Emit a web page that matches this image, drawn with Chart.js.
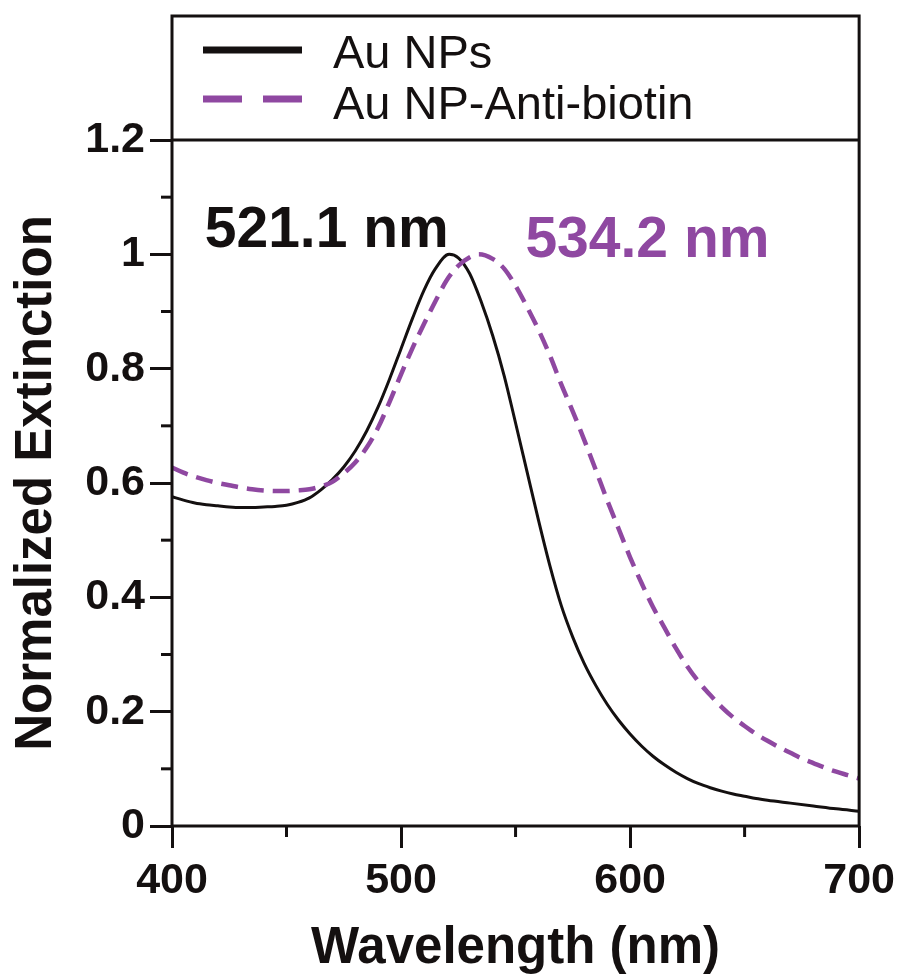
<!DOCTYPE html>
<html><head><meta charset="utf-8">
<script src="https://cdn.jsdelivr.net/npm/chart.js@4/dist/chart.umd.min.js"></script>
<style>html,body{margin:0;padding:0;background:#fff}canvas{display:block}</style>
</head><body>
<canvas id="c" width="907" height="976"></canvas>
<script>
// ---- data ----
const seriesLabels = ['Au NPs', 'Au NP-Anti-biotin'];
const peakLabels = ['521.1 nm', '534.2 nm'];
const xTickValues = [400, 500, 600, 700];
const yTickValues = [0, 0.2, 0.4, 0.6, 0.8, 1, 1.2];

const auNpWavelength = [400,405,410,415,420,425,430,435,440,445,450,455,460,465,470,475,480,485,490,495,500,505,510,515,521,525,530,535,540,545,550,555,560,565,570,575,580,585,590,595,600,605,610,615,620,625,630,635,640,645,650,655,660,670,680,690,700];
const auNpExtinction = [0.576,0.570,0.565,0.562,0.560,0.558,0.557,0.557,0.558,0.559,0.561,0.566,0.574,0.588,0.606,0.628,0.656,0.691,0.733,0.782,0.835,0.888,0.937,0.975,1.000,0.994,0.966,0.917,0.858,0.788,0.705,0.620,0.535,0.455,0.385,0.330,0.284,0.246,0.213,0.185,0.161,0.140,0.122,0.107,0.094,0.083,0.074,0.067,0.061,0.056,0.052,0.048,0.045,0.040,0.035,0.030,0.026];

const antiBiotinWavelength = [400,405,410,415,420,425,430,435,440,445,450,455,460,465,470,475,480,485,490,495,500,505,510,515,520,525,530,534,540,545,550,555,560,565,570,575,580,585,590,595,600,605,610,615,620,625,630,635,640,645,650,655,660,665,670,675,680,685,690,695,700];
const antiBiotinExtinction = [0.627,0.618,0.611,0.605,0.600,0.596,0.592,0.589,0.587,0.586,0.586,0.587,0.589,0.594,0.602,0.617,0.636,0.662,0.697,0.742,0.790,0.836,0.878,0.918,0.955,0.980,0.995,1.000,0.992,0.975,0.945,0.908,0.868,0.823,0.772,0.725,0.675,0.623,0.570,0.520,0.470,0.425,0.383,0.347,0.311,0.279,0.252,0.229,0.208,0.190,0.175,0.161,0.149,0.138,0.128,0.118,0.110,0.102,0.095,0.089,0.083];

// ---- styles ----
const FONT = "'Liberation Sans', Arial, Helvetica, sans-serif";
const INK = '#141010';
const PURPLE = '#8f48a1';

const toPoints = (xs, ys) => xs.map((x, i) => ({x, y: ys[i]}));

const framePlugin = {
  id: 'frame',
  afterDraw(chart) {
    const {ctx, chartArea: a, scales} = chart;
    ctx.save();
    ctx.strokeStyle = INK;
    ctx.lineWidth = 3;
    ctx.strokeRect(a.left, 16, a.right - a.left, a.bottom - 16);
    ctx.beginPath();
    ctx.moveTo(a.left, a.top); ctx.lineTo(a.right, a.top); ctx.stroke();

    // minor ticks at midpoints of major ticks
    const minorLen = 11;
    const xs = scales.x, ys = scales.y;
    for (let i = 0; i < xs.ticks.length - 1; i++) {
      const px = xs.getPixelForValue((xs.ticks[i].value + xs.ticks[i + 1].value) / 2);
      ctx.beginPath(); ctx.moveTo(px, a.bottom); ctx.lineTo(px, a.bottom + minorLen); ctx.stroke();
    }
    for (let i = 0; i < ys.ticks.length - 1; i++) {
      const py = ys.getPixelForValue((ys.ticks[i].value + ys.ticks[i + 1].value) / 2);
      ctx.beginPath(); ctx.moveTo(a.left, py); ctx.lineTo(a.left - minorLen, py); ctx.stroke();
    }

    // legend inside the top box
    chart.data.datasets.forEach((d, i) => {
      const ly = 50 + i * 49;
      ctx.strokeStyle = d.borderColor;
      ctx.lineWidth = 7;
      ctx.setLineDash(d.borderDash.length ? [39, 21] : []);
      ctx.beginPath(); ctx.moveTo(a.left + 31, ly); ctx.lineTo(a.left + 130, ly); ctx.stroke();
      ctx.setLineDash([]);
      ctx.fillStyle = INK;
      ctx.font = `47px ${FONT}`;
      ctx.textAlign = 'left';
      ctx.textBaseline = 'alphabetic';
      ctx.fillText(d.label, a.left + 161, 68 + i * 51);
    });

    // peak annotations
    ctx.font = `bold 57px ${FONT}`;
    ctx.textBaseline = 'alphabetic';
    ctx.fillStyle = INK;
    ctx.fillText(peakLabels[0], xs.getPixelForValue(414.3), ys.getPixelForValue(1.013));
    ctx.fillStyle = PURPLE;
    ctx.fillText(peakLabels[1], xs.getPixelForValue(554.3), ys.getPixelForValue(0.996));
    ctx.restore();
  }
};

new Chart(document.getElementById('c'), {
  type: 'line',
  data: {
    datasets: [
      {
        label: seriesLabels[0],
        data: toPoints(auNpWavelength, auNpExtinction),
        borderColor: INK,
        borderWidth: 3,
        borderDash: [],
        pointRadius: 0,
        cubicInterpolationMode: 'monotone',
        fill: false,
        order: 1
      },
      {
        label: seriesLabels[1],
        data: toPoints(antiBiotinWavelength, antiBiotinExtinction),
        borderColor: PURPLE,
        borderWidth: 4.5,
        borderDash: [17, 9],
        pointRadius: 0,
        cubicInterpolationMode: 'monotone',
        fill: false,
        order: 0
      }
    ]
  },
  options: {
    responsive: false,
    animation: false,
    devicePixelRatio: 1,
    layout: {padding: {top: 140, right: 45, left: 0, bottom: 0}},
    plugins: {legend: {display: false}, tooltip: {enabled: false}},
    scales: {
      x: {
        type: 'linear',
        min: 400, max: 700,
        afterBuildTicks: s => { s.ticks = xTickValues.map(v => ({value: v})); },
        afterFit: s => { s.height = 150; },
        border: {display: false},
        grid: {display: true, drawOnChartArea: false, drawTicks: true, tickLength: 22, tickWidth: 3, tickColor: INK},
        ticks: {color: INK, font: {family: FONT, size: 43, weight: 'bold', lineHeight: 1}, padding: 12, maxRotation: 0, autoSkip: false,
                callback: v => String(v)},
        title: {display: true, text: 'Wavelength (nm)', color: INK, font: {family: FONT, size: 51, weight: 'bold', lineHeight: 1}, padding: {top: 0, bottom: 2}}
      },
      y: {
        type: 'linear',
        min: 0, max: 1.2,
        afterBuildTicks: s => { s.ticks = yTickValues.map(v => ({value: v})); },
        afterFit: s => { s.width = 172; },
        border: {display: false},
        grid: {display: true, drawOnChartArea: false, drawTicks: true, tickLength: 22, tickWidth: 3, tickColor: INK},
        ticks: {color: INK, font: {family: FONT, size: 43, weight: 'bold', lineHeight: 1}, padding: 5, autoSkip: false,
                callback: v => String(+(+v).toFixed(1))},
        title: {display: true, text: 'Normalized Extinction', color: INK, font: {family: FONT, size: 51, weight: 'bold', lineHeight: 1}, padding: {top: 11, bottom: 0}}
      }
    }
  },
  plugins: [framePlugin]
});
</script>
</body></html>
